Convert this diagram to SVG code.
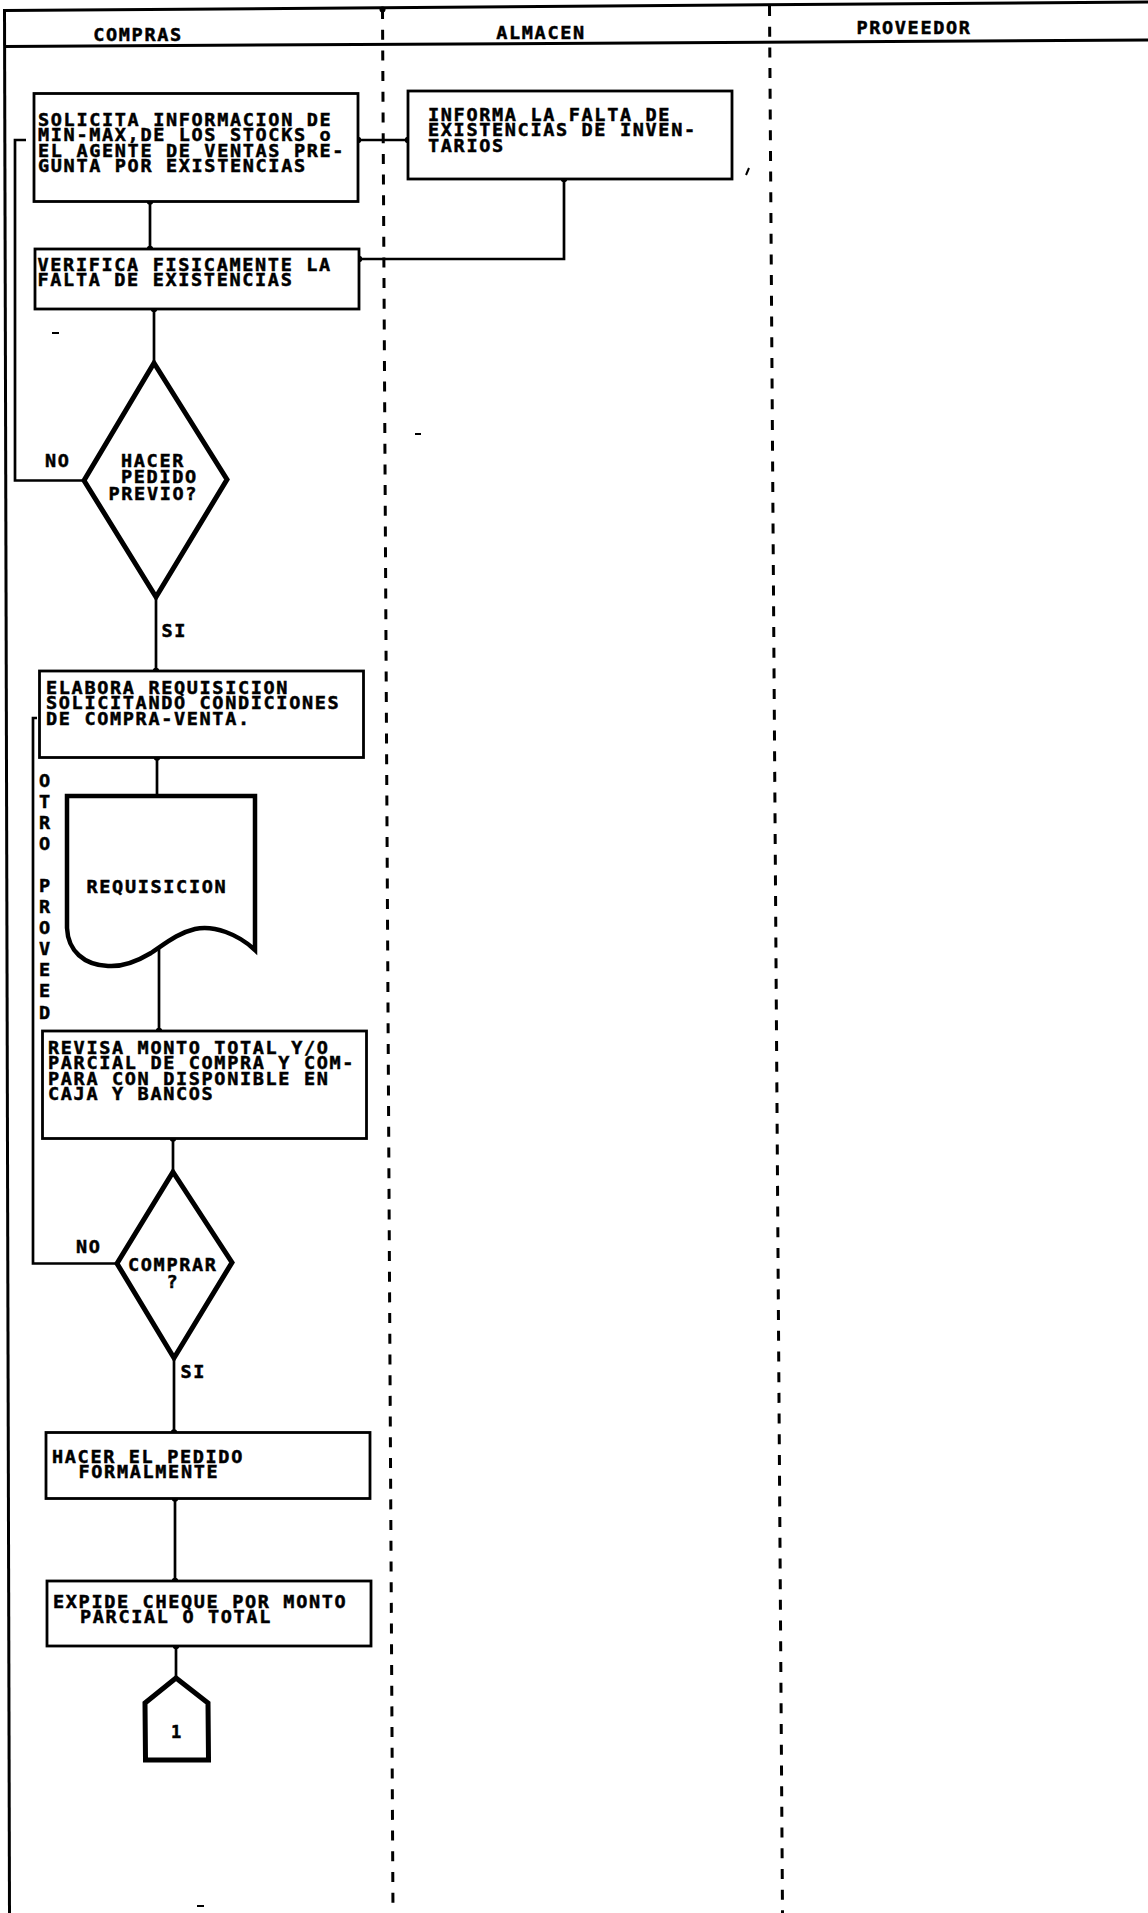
<svg xmlns="http://www.w3.org/2000/svg" width="1148" height="1913" viewBox="0 0 1148 1913">
<style>
.frame{fill:none;stroke:#000;stroke-width:3}
.lane{fill:none;stroke:#000;stroke-width:3;stroke-dasharray:10 10.7}
.box{fill:#fff;stroke:#000;stroke-width:2.8}
.dia{fill:#fff;stroke:#000;stroke-width:5;stroke-linejoin:miter}
.doc{fill:#fff;stroke:#000;stroke-width:4.5}
.conn{fill:none;stroke:#000;stroke-width:2.7}
.dot{fill:#000}
.t{font-family:"DejaVu Sans Mono","Liberation Mono",monospace;font-weight:bold;font-size:18.5px;letter-spacing:1.66px;fill:#000;stroke:#000;stroke-width:0.5}
.c{text-anchor:middle}
.speck{fill:none;stroke:#000;stroke-width:2}
</style>
<rect x="0" y="0" width="1148" height="1913" fill="#fff"/>
<g id="frame">
  <line class="frame" x1="4.5" y1="10.5" x2="1148" y2="2"/>
  <line class="frame" x1="4.5" y1="46.5" x2="1148" y2="40"/>
  <line class="frame" x1="4.5" y1="9" x2="9.5" y2="1913"/>
  <line class="lane" x1="382.5" y1="9" x2="393" y2="1913"/>
  <line class="lane" x1="769.5" y1="6" x2="782.5" y2="1913"/>
  <circle class="dot" cx="382.5" cy="9.5" r="3"/>
  <text class="t c" x="138" y="41">COMPRAS</text>
  <text class="t c" x="541" y="38.5">ALMACEN</text>
  <text class="t c" x="914" y="34">PROVEEDOR</text>
</g>
<g id="connectors">
  <path class="conn" d="M358,140 H408"/>
  <path class="conn" d="M150,201.5 V249"/>
  <path class="conn" d="M564,179 V259 H359"/>
  <path class="conn" d="M154,309 V363"/>
  <path class="conn" d="M84,480.5 H15 V140 H26"/>
  <path class="conn" d="M156,597 V671"/>
  <path class="conn" d="M157,757.5 V796"/>
  <path class="conn" d="M159,949 V1031"/>
  <path class="conn" d="M173,1138.5 V1172"/>
  <path class="conn" d="M117,1263.5 H33 V718 H37"/>
  <path class="conn" d="M174,1358 V1432.5"/>
  <path class="conn" d="M175,1498.5 V1581"/>
  <path class="conn" d="M176,1646 V1678"/>
  <circle class="dot" cx="358" cy="140" r="3.2"/>
  <circle class="dot" cx="408" cy="140" r="3.2"/>
  <circle class="dot" cx="150" cy="201.5" r="3.2"/>
  <circle class="dot" cx="150" cy="249" r="3.2"/>
  <circle class="dot" cx="564" cy="179" r="3.2"/>
  <circle class="dot" cx="359" cy="259" r="3.2"/>
  <circle class="dot" cx="154" cy="309" r="3.2"/>
  <circle class="dot" cx="156" cy="671" r="3.2"/>
  <circle class="dot" cx="157" cy="757.5" r="3.2"/>
  <circle class="dot" cx="159" cy="1031" r="3.2"/>
  <circle class="dot" cx="173" cy="1138.5" r="3.2"/>
  <circle class="dot" cx="174" cy="1432.5" r="3.2"/>
  <circle class="dot" cx="175" cy="1498.5" r="3.2"/>
  <circle class="dot" cx="175" cy="1581" r="3.2"/>
  <circle class="dot" cx="176" cy="1646" r="3.2"/>
  <text class="t" x="45" y="467">NO</text>
  <text class="t" x="161.5" y="636.5">SI</text>
  <text class="t" x="76" y="1253">NO</text>
  <text class="t" x="180.5" y="1377.5">SI</text>
  <text id="otro-proveed" class="t c"><tspan x="45.5" y="787">O</tspan><tspan x="45.5" y="808">T</tspan><tspan x="45.5" y="829">R</tspan><tspan x="45.5" y="850">O</tspan><tspan x="45.5" y="892">P</tspan><tspan x="45.5" y="913">R</tspan><tspan x="45.5" y="934">O</tspan><tspan x="45.5" y="955">V</tspan><tspan x="45.5" y="976">E</tspan><tspan x="45.5" y="997">E</tspan><tspan x="45.5" y="1019">D</tspan></text>
</g>
<g id="n1">
  <rect class="box" x="34" y="93.5" width="324" height="108"/>
  <text class="t"><tspan x="38" y="125.5">SOLICITA INFORMACION DE</tspan><tspan x="38" y="141">MIN-MAX,DE LOS STOCKS o</tspan><tspan x="38" y="156.5">EL AGENTE DE VENTAS PRE-</tspan><tspan x="38" y="172">GUNTA POR EXISTENCIAS</tspan></text>
</g>
<g id="n2">
  <rect class="box" x="408" y="91" width="324" height="88"/>
  <text class="t"><tspan x="428" y="120.5">INFORMA LA FALTA DE</tspan><tspan x="428" y="136">EXISTENCIAS DE INVEN-</tspan><tspan x="428" y="151.5">TARIOS</tspan></text>
</g>
<g id="n3">
  <rect class="box" x="35" y="249" width="324" height="60"/>
  <text class="t"><tspan x="37.5" y="270.5">VERIFICA FISICAMENTE LA</tspan><tspan x="37.5" y="286">FALTA DE EXISTENCIAS</tspan></text>
</g>
<g id="d1">
  <polygon class="dia" points="154,363 227,479.5 156,597 84,480.5"/>
  <text class="t"><tspan x="121" y="466.5">HACER</tspan><tspan x="121" y="483">PEDIDO</tspan><tspan x="108.5" y="499.5">PREVIO?</tspan></text>
</g>
<g id="n4">
  <rect class="box" x="39.5" y="671" width="324" height="86.5"/>
  <text class="t"><tspan x="46" y="693.5">ELABORA REQUISICION</tspan><tspan x="46" y="709">SOLICITANDO CONDICIONES</tspan><tspan x="46" y="724.5">DE COMPRA-VENTA.</tspan></text>
</g>
<g id="doc">
  <path class="doc" d="M67,796 H255 V950 C238,934 214,925 195,929 C178,933 166,943 151,953 C136,962 122,967 108,966 C84,965 68,951 67,928 Z"/>
  <text class="t" x="86.5" y="892.5">REQUISICION</text>
</g>
<g id="n5">
  <rect class="box" x="42.5" y="1031" width="324" height="107.5"/>
  <text class="t"><tspan x="48" y="1053.5">REVISA MONTO TOTAL Y/O</tspan><tspan x="48" y="1069">PARCIAL DE COMPRA Y COM-</tspan><tspan x="48" y="1084.5">PARA CON DISPONIBLE EN</tspan><tspan x="48" y="1100">CAJA Y BANCOS</tspan></text>
</g>
<g id="d2">
  <polygon class="dia" points="173,1172 232,1262.5 174,1358 117,1263.5"/>
  <text class="t"><tspan x="128" y="1270.5">COMPRAR</tspan><tspan x="166.5" y="1288">?</tspan></text>
</g>
<g id="n6">
  <rect class="box" x="46" y="1432.5" width="324" height="66"/>
  <text class="t"><tspan x="52" y="1462.5">HACER EL PEDIDO</tspan><tspan x="78.5" y="1478">FORMALMENTE</tspan></text>
</g>
<g id="n7">
  <rect class="box" x="47" y="1581" width="324" height="65"/>
  <text class="t"><tspan x="53" y="1607.5">EXPIDE CHEQUE POR MONTO</tspan><tspan x="80" y="1623">PARCIAL O TOTAL</tspan></text>
</g>
<g id="off-page">
  <polygon class="dia" points="176,1678 208,1703 208.5,1760 145.5,1760 145,1703"/>
  <text class="t c" x="176" y="1737.5" style="font-size:17px;letter-spacing:0">1</text>
</g>
<g id="specks">
  <path class="speck" d="M749,168 L746,175"/>
  <path class="speck" d="M52,333 H59"/>
  <path class="speck" d="M415,434 H421"/>
  <path class="speck" d="M197,1906 H204"/>
</g>
</svg>
